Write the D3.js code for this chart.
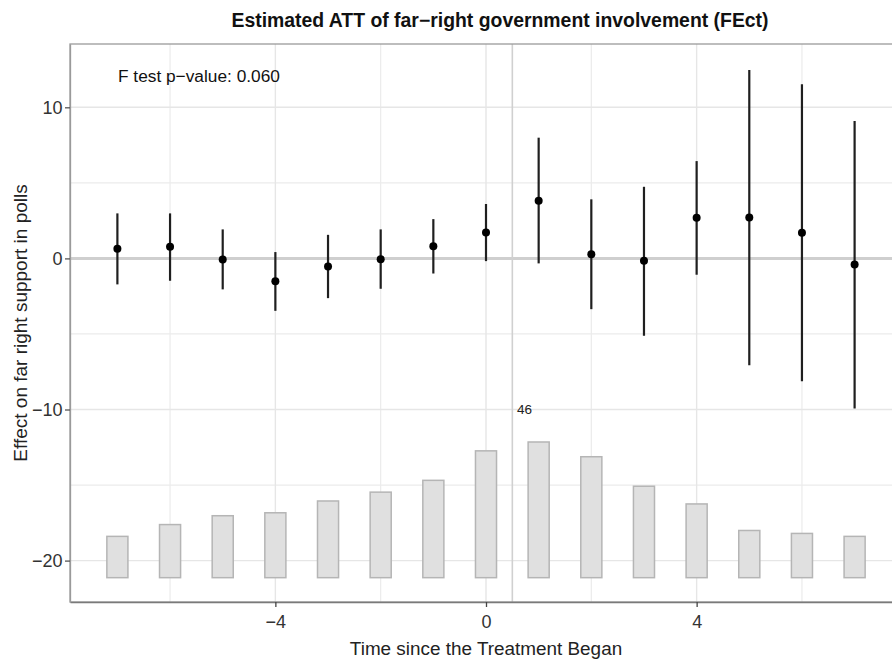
<!DOCTYPE html>
<html>
<head>
<meta charset="utf-8">
<script src="https://cdn.jsdelivr.net/npm/d3@7"></script>
<style>
  html, body { margin: 0; padding: 0; background: #fff; overflow: hidden; }
  svg { display: block; font-family: "Liberation Sans", Arial, sans-serif; }
</style>
</head>
<body>
<svg id="chart" width="892" height="662"></svg>
<script>
// Event-time periods relative to treatment onset
const periods = [-7, -6, -5, -4, -3, -2, -1, 0, 1, 2, 3, 4, 5, 6, 7];
// Estimated ATT per period
const att = [0.64, 0.77, -0.07, -1.52, -0.53, -0.05, 0.81, 1.72, 3.82, 0.28, -0.16, 2.69, 2.71, 1.70, -0.40];
// 95% confidence bounds
const ciLower = [-1.72, -1.48, -2.05, -3.47, -2.63, -2.01, -1.00, -0.18, -0.33, -3.36, -5.12, -1.08, -7.07, -8.13, -9.93];
const ciUpper = [2.98, 2.98, 1.92, 0.42, 1.56, 1.92, 2.60, 3.60, 7.99, 3.91, 4.74, 6.44, 12.47, 11.52, 9.09];
// Number of treated units observed at each period
const counts = [14, 18, 21, 22, 26, 29, 33, 43, 46, 41, 31, 25, 16, 15, 14];
// Axis ticks
const xTicks = [-4, 0, 4];
const xMinor = [-6, -2, 2, 6];
const yTicks = [10, 0, -10, -20];
const yMinor = [5, -5, -15];

const titleText = "Estimated ATT of far\u2212right government involvement (FEct)";
const xLabel = "Time since the Treatment Began";
const yLabel = "Effect on far right support in polls";
const fTestText = "F test p\u2212value: 0.060";

// Layout
const panel = { left: 70, top: 44, right: 902, bottom: 602 };
const barBase = -21.13;      // baseline of the count histogram (data units)
const barMaxHeight = 8.98;   // height of the tallest count bar (data units)
const barWidth = 0.4;
const fontStack = "'Liberation Sans', Arial, sans-serif";

const svg = d3.select("#chart");

const x = d3.scaleLinear().domain([-7.9, 7.9]).range([panel.left, panel.right]);
const y = d3.scaleLinear().domain([-22.74, 14.19]).range([panel.bottom, panel.top]);

const minus = v => String(v).replace("-", "\u2212");

const plot = svg.append("g");

// Clip to the panel
svg.append("defs").append("clipPath").attr("id", "panelClip")
  .append("rect")
  .attr("x", panel.left).attr("y", panel.top)
  .attr("width", panel.right - panel.left).attr("height", panel.bottom - panel.top);

const inner = plot.append("g").attr("clip-path", "url(#panelClip)");

// Background grid
inner.selectAll(".gx-minor").data(xMinor).join("line")
  .attr("x1", d => x(d)).attr("x2", d => x(d))
  .attr("y1", panel.top).attr("y2", panel.bottom)
  .attr("stroke", "#ebebeb").attr("stroke-width", 1.2);
inner.selectAll(".gy-minor").data(yMinor).join("line")
  .attr("y1", d => y(d)).attr("y2", d => y(d))
  .attr("x1", panel.left).attr("x2", panel.right)
  .attr("stroke", "#ebebeb").attr("stroke-width", 1.2);
inner.selectAll(".gx").data(xTicks).join("line")
  .attr("x1", d => x(d)).attr("x2", d => x(d))
  .attr("y1", panel.top).attr("y2", panel.bottom)
  .attr("stroke", "#e6e6e6").attr("stroke-width", 1.4);
inner.selectAll(".gy").data(yTicks).join("line")
  .attr("y1", d => y(d)).attr("y2", d => y(d))
  .attr("x1", panel.left).attr("x2", panel.right)
  .attr("stroke", "#e6e6e6").attr("stroke-width", 1.4);

// Zero-effect reference line
inner.append("line")
  .attr("x1", panel.left).attr("x2", panel.right)
  .attr("y1", y(0)).attr("y2", y(0))
  .attr("stroke", "#cfcfcf").attr("stroke-width", 3);

// Treatment onset line
inner.append("line")
  .attr("x1", x(0.5)).attr("x2", x(0.5))
  .attr("y1", panel.top).attr("y2", panel.bottom)
  .attr("stroke", "#d0d0d0").attr("stroke-width", 1.6);

// Count histogram
const maxCount = d3.max(counts);
const hScale = d3.scaleLinear().domain([0, maxCount]).range([barBase, barBase + barMaxHeight]);
inner.selectAll(".bar").data(periods).join("rect")
  .attr("x", (d) => x(d - barWidth / 2))
  .attr("width", x(barWidth) - x(0))
  .attr("y", (d, i) => y(hScale(counts[i])))
  .attr("height", (d, i) => y(barBase) - y(hScale(counts[i])))
  .attr("fill", "#e0e0e0")
  .attr("stroke", "#b5b5b5").attr("stroke-width", 1.5);

// Max count label
inner.append("text")
  .attr("x", x(0.59)).attr("y", y(-10))
  .attr("dy", "0.35em")
  .attr("font-size", 13.5).attr("fill", "#222")
  .text(maxCount);

// Confidence intervals
inner.selectAll(".ci").data(periods).join("line")
  .attr("x1", d => x(d)).attr("x2", d => x(d))
  .attr("y1", (d, i) => y(ciLower[i])).attr("y2", (d, i) => y(ciUpper[i]))
  .attr("stroke", "#1f1f1f").attr("stroke-width", 2.2);

// Point estimates
inner.selectAll(".pt").data(periods).join("circle")
  .attr("cx", d => x(d)).attr("cy", (d, i) => y(att[i]))
  .attr("r", 4).attr("fill", "#000");

// F-test annotation
inner.append("text")
  .attr("x", 118).attr("y", 76)
  .attr("dy", "0.35em")
  .attr("font-size", 17.3).attr("fill", "#111")
  .text(fTestText);

// Panel border
plot.append("rect")
  .attr("x", panel.left).attr("y", panel.top)
  .attr("width", panel.right - panel.left).attr("height", panel.bottom - panel.top)
  .attr("fill", "none").attr("stroke", "#9a9a9a").attr("stroke-width", 1.3);

// Axes
const xAxis = d3.axisBottom(x).tickValues(xTicks).tickSize(5).tickSizeOuter(0).tickPadding(8).tickFormat(minus);
const gx = svg.append("g").attr("transform", `translate(0,${panel.bottom})`).call(xAxis);
gx.select(".domain").attr("stroke", "#7a7a7a").attr("stroke-width", 1.3);
gx.selectAll(".tick line").attr("stroke", "#444").attr("stroke-width", 1.3);
gx.selectAll(".tick text").attr("font-size", 18).attr("fill", "#333").attr("font-family", fontStack);

const yAxis = d3.axisLeft(y).tickValues(yTicks).tickSize(5).tickSizeOuter(0).tickPadding(2.5).tickFormat(minus);
const gy = svg.append("g").attr("transform", `translate(${panel.left},0)`).call(yAxis);
gy.select(".domain").attr("stroke", "#9a9a9a").attr("stroke-width", 1.3);
gy.selectAll(".tick line").attr("stroke", "#555").attr("stroke-width", 1.3);
gy.selectAll(".tick text").attr("font-size", 18).attr("fill", "#333").attr("font-family", fontStack);

// Axis titles
svg.append("text")
  .attr("x", (panel.left + panel.right) / 2).attr("y", 648)
  .attr("dy", "0.35em").attr("text-anchor", "middle")
  .attr("font-size", 18.9).attr("fill", "#222")
  .text(xLabel);

svg.append("text")
  .attr("transform", `translate(20,${(panel.top + panel.bottom) / 2}) rotate(-90)`)
  .attr("dy", "0.35em").attr("text-anchor", "middle")
  .attr("font-size", 19).attr("fill", "#222")
  .text(yLabel);

// Title
svg.append("text")
  .attr("x", 500).attr("y", 20)
  .attr("dy", "0.35em").attr("text-anchor", "middle")
  .attr("font-size", 19.4).attr("font-weight", "bold").attr("fill", "#111")
  .text(titleText);
</script>
</body>
</html>
